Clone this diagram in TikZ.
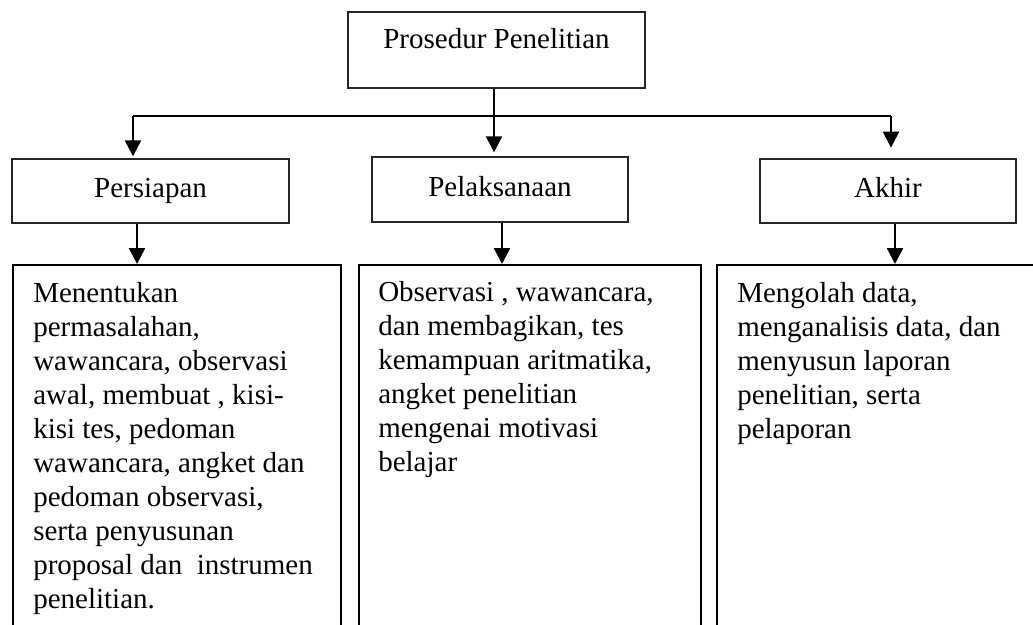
\documentclass[tikz,border=0pt]{standalone}
\usepackage{fontspec}
\setmainfont{Liberation Serif}
\usetikzlibrary{arrows.meta}
\begin{document}
\begin{tikzpicture}[x=0.75pt,y=-0.75pt,
  labbox/.style={draw=black!85,line width=1pt,inner sep=0pt,
    font=\fontsize{21.75pt}{25.5pt}\selectfont,text height=15pt,text depth=4.7pt},
  bigbox/.style={draw=black,line width=1.4pt,inner sep=0pt,anchor=north west},
  bodytext/.style={inner sep=0pt,anchor=north west,align=left,
    font=\fontsize{21.75pt}{25.5pt}\selectfont},
  conn/.style={line width=1.7pt,draw=black},
  arr/.style={conn,-{Triangle[width=12pt,length=12pt]}}]
\clip (0,0) rectangle (1033,625);
\fill[white] (0,0) rectangle (1033,625);
% top box
\node[labbox,minimum width=222.75pt,minimum height=57pt,text depth=18pt] (top) at (496.5,50) {Prosedur Penelitian};
% label boxes
\node[labbox,minimum width=207.75pt,minimum height=48pt] (p1) at (150.5,191) {Persiapan};
\node[labbox,minimum width=192pt,minimum height=48.75pt] (p2) at (500,189.5) {Pelaksanaan};
\node[labbox,minimum width=192pt,minimum height=48pt] (p3) at (888,191) {Akhir};
% big boxes
\node[bigbox,minimum width=246pt,minimum height=327pt] (b1) at (12,264) {};
\node[bigbox,minimum width=256.5pt,minimum height=327pt] (b2) at (358,264) {};
\node[bigbox,minimum width=288pt,minimum height=327pt] (b3) at (716,264) {};
% texts
\node[bodytext] (t1) at (33,282) {Menentukan\\permasalahan,\\wawancara, observasi\\awal, membuat , kisi-\\kisi tes, pedoman\\wawancara, angket dan\\pedoman observasi,\\serta penyusunan\\proposal dan\ \ instrumen\\penelitian.};
\node[bodytext] (t2) at (378,281) {Observasi , wawancara,\\dan membagikan, tes\\kemampuan aritmatika,\\angket penelitian\\mengenai motivasi\\belajar};
\node[bodytext] (t3) at (737,282) {Mengolah data,\\menganalisis data, dan\\menyusun laporan\\penelitian, serta\\pelaporan};
% connectors
\coordinate (j0) at (494,116);
\coordinate (jl) at (133,116);
\coordinate (jr) at (891,116);
\draw[conn] (top.south -| j0) -- (j0);
\draw[conn] (jl) -- (jr);
\draw[arr,shorten >=1.5pt] (jl) -- (jl |- p1.north);
\draw[arr,shorten >=3pt] (j0) -- (j0 |- p2.north);
\draw[arr,shorten >=8pt] (jr) -- (jr |- p3.north);
\draw[arr] ([xshift=-10.1pt]p1.south) -- ([xshift=-10.1pt]p1.south |- b1.north);
\draw[arr] ([xshift=1.5pt]p2.south) -- ([xshift=1.5pt]p2.south |- b2.north);
\draw[arr] ([xshift=5.25pt]p3.south) -- ([xshift=5.25pt]p3.south |- b3.north);
\end{tikzpicture}
\end{document}
